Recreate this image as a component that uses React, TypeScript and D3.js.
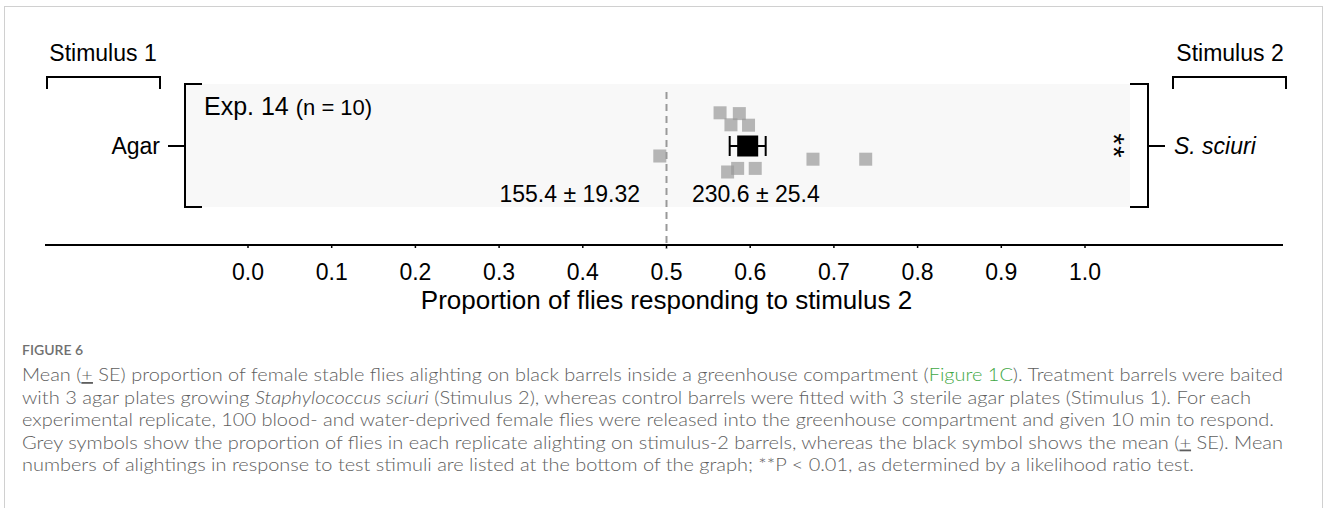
import React from "react";
import * as d3 from "d3";

// ---------- data ----------
const stimulusHeaders = ["Stimulus 1", "Stimulus 2"];
const stimulus1Label = "Agar";
const stimulus2Label = "S. sciuri";
const experimentLabel = "Exp. 14";
const sampleLabel = "(n = 10)";
const replicateProportions = [0.564, 0.587, 0.577, 0.598, 0.492, 0.675, 0.738, 0.573, 0.585, 0.606];
const replicateJitter = [-0.83, -0.81, -0.53, -0.52, 0.25, 0.33, 0.33, 0.65, 0.56, 0.56];
const meanProportion = [0.597];
const seProportion = [0.0215];
const meanAlightings = ["155.4 ± 19.32", "230.6 ± 25.4"];
const significance = "**";
const tickValues = [0, 0.1, 0.2, 0.3, 0.4, 0.5, 0.6, 0.7, 0.8, 0.9, 1.0];
const axisTitle = "Proportion of flies responding to stimulus 2";
const captionTitle = "FIGURE 6";

const FONT = "'Liberation Sans', Arial, Helvetica, sans-serif";
const CAP_FONT = "Lato, 'Open Sans', sans-serif";
const CAP_COLOR = "#5e5e5e";

export default function App() {
  const x = d3.scaleLinear().domain([0, 1]).range([248, 1085]);
  const rowY = 146;
  const jy = d3.scaleLinear().domain([-1, 1]).range([rowY - 40, rowY + 40]);
  const fmt = d3.format(".1f");
  const panelL = 185, panelR = 1148, panelT = 84, panelB = 207;
  const axisY = 245;
  const sq = 13;
  const m = meanProportion[0], se = seProportion[0];
  const capX = 22;
  const capW = [1261, 1229, 1252, 1261, 1172];
  const capY = [381, 403.5, 426, 448.5, 471];

  return (
    <svg width={1328} height={508} style={{ position: "absolute", left: 0, top: 0 }} fontFamily={FONT}>
      <rect x={0} y={0} width={1328} height={508} fill="#fff" />
      <rect x={4.5} y={6.5} width={1318} height={520} fill="none" stroke="#d0d0d0" strokeWidth={1} />

      {/* stimulus headers */}
      <text x={103} y={61} fontSize={23} textAnchor="middle">{stimulusHeaders[0]}</text>
      <path d="M47,89 V77 H160 V89" fill="none" stroke="#000" strokeWidth={2} />
      <text x={1230} y={61} fontSize={23} textAnchor="middle">{stimulusHeaders[1]}</text>
      <path d="M1173,89 V77 H1286 V89" fill="none" stroke="#000" strokeWidth={2} />

      {/* panel */}
      <rect x={panelL} y={panelT} width={1130 - panelL} height={panelB - panelT} fill="#f8f8f8" />
      <path d={`M202,${panelT} H${panelL} V${panelB} H202`} fill="none" stroke="#000" strokeWidth={2} />
      <path d={`M168,${rowY} H${panelL}`} stroke="#000" strokeWidth={2} />
      <path d={`M1130,${panelT} H${panelR} V${panelB} H1130`} fill="none" stroke="#000" strokeWidth={2} />
      <path d={`M${panelR},${rowY} H1165`} stroke="#000" strokeWidth={2} />

      <text x={160} y={rowY + 8} fontSize={23} textAnchor="end">{stimulus1Label}</text>
      <text x={1174} y={rowY + 8} fontSize={23} fontStyle="italic">{stimulus2Label}</text>

      <text x={204} y={115} fontSize={25}>
        {experimentLabel} <tspan fontSize={22}>{sampleLabel}</tspan>
      </text>

      {/* significance (rotated) */}
      <text transform={`translate(1104,${rowY}) rotate(90)`} fontSize={30} letterSpacing={1} textAnchor="middle">{significance}</text>

      {/* dashed 0.5 */}
      <line x1={x(0.5)} x2={x(0.5)} y1={92} y2={249} stroke="#999" strokeWidth={2} strokeDasharray="7,5" />

      {/* replicate points */}
      {replicateProportions.map((p, i) => (
        <rect key={i} x={x(p) - sq / 2} y={jy(replicateJitter[i]) - sq / 2} width={sq} height={sq}
          fill="#999" fillOpacity={0.7} />
      ))}

      {/* mean ± SE */}
      <g stroke="#000" strokeWidth={2}>
        <line x1={x(m - se)} x2={x(m + se)} y1={rowY} y2={rowY} />
        <line x1={x(m - se)} x2={x(m - se)} y1={rowY - 10} y2={rowY + 10} />
        <line x1={x(m + se)} x2={x(m + se)} y1={rowY - 10} y2={rowY + 10} />
      </g>
      <rect x={x(m) - 10.5} y={rowY - 10.5} width={21} height={21} fill="#000" />

      {/* mean alightings */}
      <text x={640} y={202} fontSize={23} textAnchor="end">{meanAlightings[0]}</text>
      <text x={692} y={202} fontSize={23}>{meanAlightings[1]}</text>

      {/* axis */}
      <line x1={45} x2={1283} y1={axisY} y2={axisY} stroke="#000" strokeWidth={2} />
      {tickValues.map((t) => (
        <g key={t}>
          <line x1={x(t)} x2={x(t)} y1={axisY} y2={axisY + 3} stroke="#000" strokeWidth={1.5} />
          <text x={x(t)} y={280} fontSize={23} textAnchor="middle">{fmt(t)}</text>
        </g>
      ))}
      <text x={x(0.5)} y={309} fontSize={26} textAnchor="middle">{axisTitle}</text>

      {/* caption */}
      <g fontFamily={CAP_FONT} fill={CAP_COLOR} fontSize={18} fontWeight={300}>
        <text x={capX} y={355} fontSize={14} fontWeight={600} fill="#707070">{captionTitle}</text>
        <text x={capX} y={capY[0]} textLength={capW[0]} lengthAdjust="spacingAndGlyphs">
          Mean (<tspan textDecoration="underline">+</tspan> SE) proportion of female stable flies alighting on black barrels inside a greenhouse compartment (<tspan fill="#3fa845">Figure 1C</tspan>). Treatment barrels were baited
        </text>
        <text x={capX} y={capY[1]} textLength={capW[1]} lengthAdjust="spacingAndGlyphs">
          {"with 3 agar plates growing "}<tspan fontStyle="italic">Staphylococcus sciuri</tspan>{" (Stimulus 2), whereas control barrels were fitted with 3 sterile agar plates (Stimulus 1). For each"}
        </text>
        <text x={capX} y={capY[2]} textLength={capW[2]} lengthAdjust="spacingAndGlyphs">
          experimental replicate, 100 blood- and water-deprived female flies were released into the greenhouse compartment and given 10 min to respond.
        </text>
        <text x={capX} y={capY[3]} textLength={capW[3]} lengthAdjust="spacingAndGlyphs">
          Grey symbols show the proportion of flies in each replicate alighting on stimulus-2 barrels, whereas the black symbol shows the mean (<tspan textDecoration="underline">+</tspan> SE). Mean
        </text>
        <text x={capX} y={capY[4]} textLength={capW[4]} lengthAdjust="spacingAndGlyphs">
          numbers of alightings in response to test stimuli are listed at the bottom of the graph; **P &lt; 0.01, as determined by a likelihood ratio test.
        </text>
      </g>
    </svg>
  );
}
